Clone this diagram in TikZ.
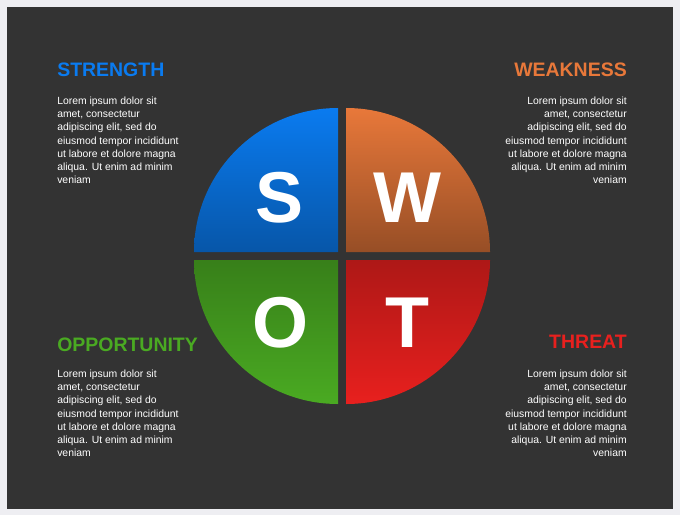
\documentclass[tikz,border=0pt]{standalone}
\usepackage{fontspec}
\setmainfont{Liberation Sans}
\definecolor{bgdark}{HTML}{333333}
\definecolor{bglight}{HTML}{EEEEF2}
\definecolor{sblue}{HTML}{0A7BF0}
\definecolor{worange}{HTML}{E8783A}
\definecolor{ogreen}{HTML}{4AAA22}
\definecolor{tred}{HTML}{E8201E}
\newcommand{\loremtxt}{Lorem ipsum dolor sit\\ amet, consectetur\\ adipiscing elit, sed do\\ eiusmod tempor incididunt\\ ut labore et dolore magna\\ aliqua. Ut enim ad minim\\ veniam}
\tikzset{
  headtxt/.style={font=\bfseries\fontsize{14.6}{16}\selectfont, inner sep=0pt},
  bodytxt/.style={text=white, font=\fontsize{7.8}{9.8}\selectfont, inner sep=0pt},
  lettertxt/.style={text=white, font=\bfseries\fontsize{54}{54}\selectfont},
}
\begin{document}
\begin{tikzpicture}[x=0.75pt, y=0.75pt]
\fill[bglight] (0,0) rectangle (680,515);
\fill[bgdark] (7,6) rectangle (673,508);

% quadrants
\shade[top color=sblue, bottom color=sblue!70!black] (338,263) -- (194,263) arc[start angle=180, end angle=90, radius=108pt] -- cycle;
\shade[top color=worange, bottom color=worange!65!black] (346,263) -- (346,407) arc[start angle=90, end angle=0, radius=108pt] -- cycle;
\shade[top color=ogreen!75!black, bottom color=ogreen] (338,255) -- (194,255) arc[start angle=180, end angle=270, radius=108pt] -- cycle;
\shade[top color=tred!75!black, bottom color=tred] (346,255) -- (346,111) arc[start angle=270, end angle=360, radius=108pt] -- cycle;

\node[lettertxt] (s) at (280,317) {S};
\node[lettertxt] (w) at (407,317) {W};
\node[lettertxt] (o) at (280,192) {O};
\node[lettertxt] (t) at (407,192) {T};

% headings
\node[headtxt, text=sblue, anchor=west] (strength) at (57,445) {STRENGTH};
\node[headtxt, text=worange, anchor=east] (weakness) at (627,445) {WEAKNESS};
\node[headtxt, text=ogreen, anchor=west] (opportunity) at (57,170) {OPPORTUNITY};
\node[headtxt, text=tred, anchor=east] (threat) at (627,173) {THREAT};

% body texts
\node[bodytxt, anchor=north west, align=left] (sbody) at (57,418) {\loremtxt};
\node[bodytxt, anchor=north east, align=right] (wbody) at (627,418) {\loremtxt};
\node[bodytxt, anchor=north west, align=left] (obody) at (57,145) {\loremtxt};
\node[bodytxt, anchor=north east, align=right] (tbody) at (627,145) {\loremtxt};
\end{tikzpicture}
\end{document}
